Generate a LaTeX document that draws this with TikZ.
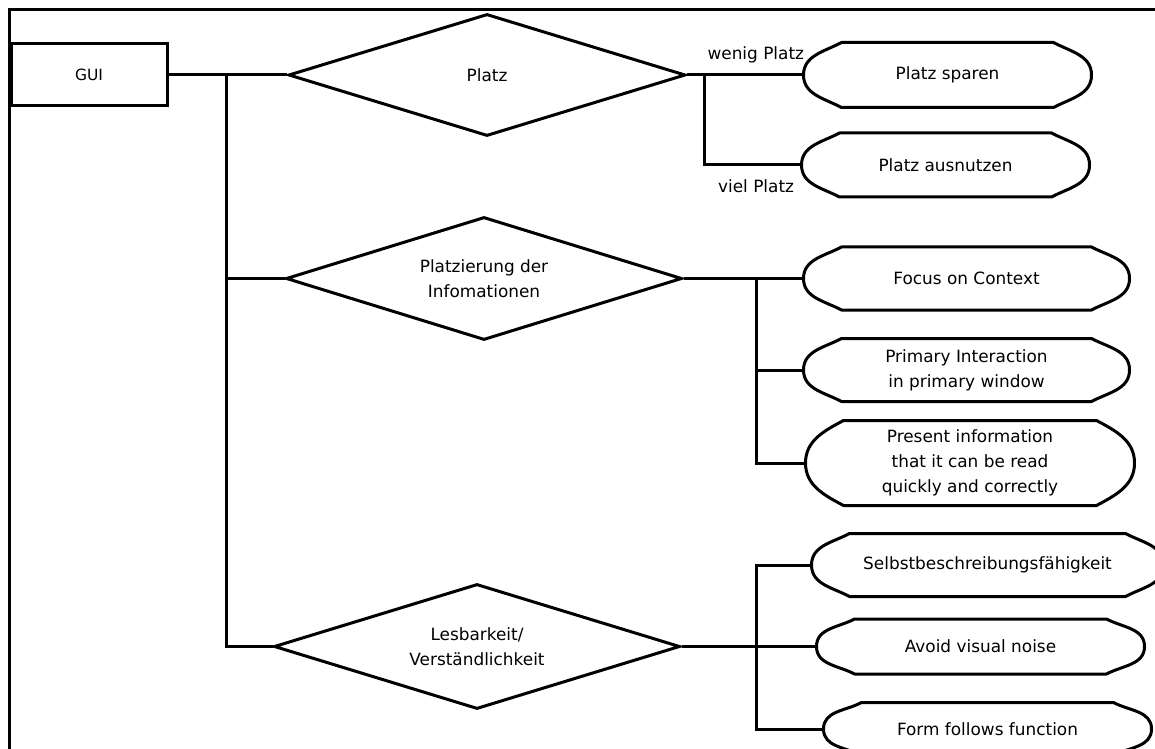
\documentclass[tikz,border=0pt]{standalone}
\usepackage{fontspec}
\setmainfont{DejaVu Sans}
\usetikzlibrary{positioning}
\usetikzlibrary{shapes.geometric}

\begin{document}
\begin{tikzpicture}[x=1pt, y=1pt, line width=3pt,
	font=\fontsize{16.9}{25}\selectfont,
	guibox/.style={draw, rectangle, minimum width=156, minimum height=62, font=\fontsize{15.5}{20}\selectfont},
	choice/.style={draw, diamond, aspect=3, inner sep=0pt, align=center},
	endbox/.style={inner sep=0pt, align=center,
		append after command={\pgfextra{%
			\draw[line join=round]
				([xshift=-38pt]\tikzlastnode.north east) to[out=-28,in=90] (\tikzlastnode.east)
				to[out=-90,in=28] ([xshift=-38pt]\tikzlastnode.south east)
				-- ([xshift=38pt]\tikzlastnode.south west) to[out=152,in=-90] (\tikzlastnode.west)
				to[out=90,in=-152] ([xshift=38pt]\tikzlastnode.north west) -- cycle;}}},
	tag/.style={inner sep=0pt}]

	\useasboundingbox (0,0) rectangle (1155,748);
	\clip (0,0) rectangle (1155,748);

	% frame
	\draw (9,-20) -- (9,738) -- (1170,738);

	\node[guibox] (gui) at (89,673) {GUI};

	\node[choice, minimum width=397, minimum height=122] (platz) at (487,673) {Platz};
	\node[choice, minimum width=396, minimum height=123] (platzierung) at (484,469.5) {Platzierung der\\Infomationen};
	\node[choice, minimum width=406, minimum height=125] (lesbar) at (477,101.5) {Lesbarkeit/\\Verständlichkeit};

	\node[endbox, minimum width=285, minimum height=62] (sparen) at (947.5,673) {Platz sparen};
	\node[endbox, minimum width=285, minimum height=61] (ausnutzen) at (945.5,583) {Platz ausnutzen};

	\node[endbox, minimum width=323, minimum height=60] (focus) at (966.5,469.5) {Focus on Context};
	\node[endbox, minimum width=323, minimum height=60] (primary) at (966.5,378) {Primary Interaction\\in primary window};
	\node[endbox, minimum width=326, minimum height=82] (present) at (970,285) {Present information\\that it can be read\\quickly and correctly};

	\node[endbox, minimum width=349, minimum height=60] (selbst) at (987.5,183) {Selbstbeschreibungsfähigkeit};
	\node[endbox, minimum width=325, minimum height=52] (avoid) at (980.5,101.5) {Avoid visual noise};
	\node[endbox, minimum width=325, minimum height=50] (form) at (987.5,19) {Form follows function};

	\node[tag, above left=10pt and -2pt of sparen.west] (wenig) {wenig Platz};
	\node[tag, below left=13pt and 6pt of ausnutzen.west] (viel) {viel Platz};

	\coordinate (trunk) at (226,673);
	\coordinate (split1) at (704,673);
	\coordinate (split2) at (756,469.5);
	\coordinate (split3) at (756,101.5);

	\draw (gui.east) -- (platz.west);
	\draw (trunk) |- (platzierung.west);
	\draw (trunk) |- (lesbar.west);

	\draw (platz.east) -- (sparen.west);
	\draw (split1) |- (ausnutzen.west);

	\draw (platzierung.east) -- (focus.west);
	\draw (split2) |- (primary.west);
	\draw (split2) |- (present.west);

	\draw (lesbar.east) -- (avoid.west);
	\draw (split3) |- (selbst.west);
	\draw (split3) |- (form.west);

\end{tikzpicture}
\end{document}
